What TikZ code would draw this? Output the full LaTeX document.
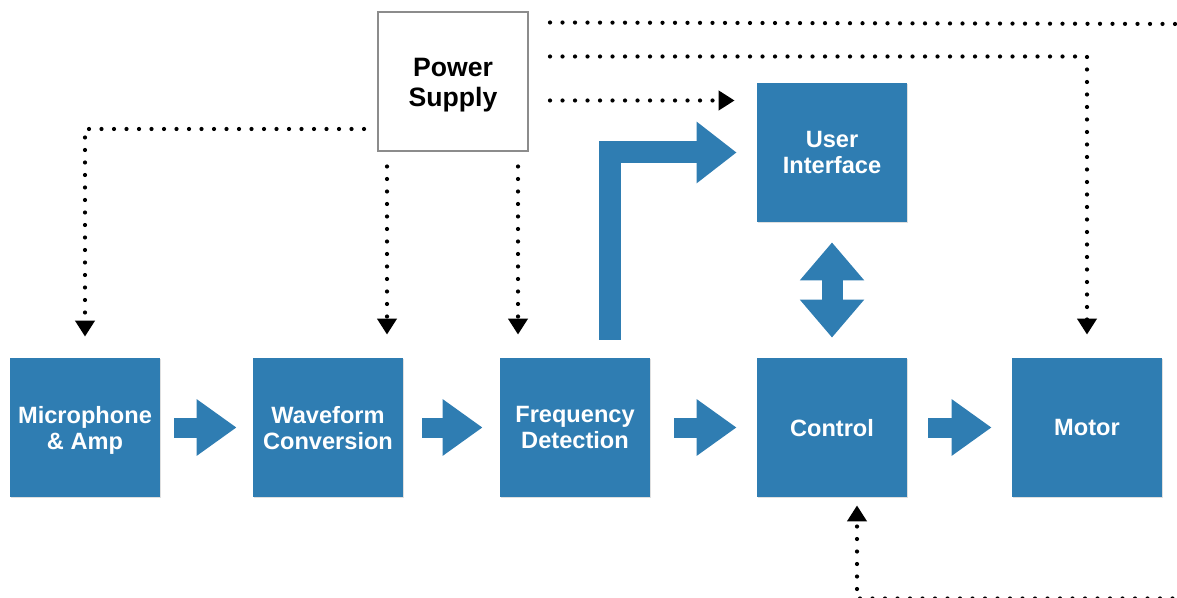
\documentclass[tikz,border=0pt]{standalone}
\usepackage{fontspec}
\setmainfont{Liberation Sans}
\usetikzlibrary{arrows.meta, calc, shadows}
\definecolor{boxblue}{RGB}{47,125,178}

\begin{document}
\begin{tikzpicture}[x=0.5pt, y=-0.5pt]

\tikzset{block/.style = {shape=rectangle, fill=boxblue, text=white, minimum width=75pt, minimum height=69.5pt, inner sep=0pt, align=center, text depth=0pt, font=\fontsize{11.8}{13}\selectfont\bfseries, drop shadow={shadow xshift=0.7pt, shadow yshift=-0.7pt, opacity=0.25}}}
\tikzset{supply/.style = {shape=rectangle, draw=black!45, line width=1pt, fill=white, minimum width=75pt, minimum height=69.5pt, inner sep=0pt, align=center, text depth=0pt, font=\fontsize{13.3}{15}\selectfont\bfseries}}
\tikzset{flow/.style = {draw=boxblue, line width=10pt, -{Triangle[length=20pt,width=27pt]}}}
\tikzset{power/.style = {line width=2.1pt, line cap=round, dash pattern=on 0pt off 6.25pt, -{Triangle[length=8pt,width=9.5pt]}}}

\useasboundingbox (0,0) rectangle (1177,598);

%blocks
\node[block] (mic) at (85,427.5) {Microphone\\\& Amp};
\node[block] (wave) at (328,427.5) {Waveform\\Conversion};
\node[block] (freq) at (575,427.5) {Frequency\\Detection};
\node[block] (ctl) at (832,427.5) {Control};
\node[block] (motor) at (1087,427.5) {Motor};
\node[block] (ui) at (832,152.5) {User\\Interface};
\node[supply] (ps) at (453,82) {Power\\Supply};

%signal arrows
\draw[flow, shorten <=7pt, shorten >=8pt] (mic) -- (wave);
\draw[flow, shorten <=9.5pt, shorten >=8.5pt] (wave) -- (freq);
\draw[flow, shorten <=12pt, shorten >=10pt] (freq) -- (ctl);
\draw[flow, shorten <=10.5pt, shorten >=10pt] (ctl) -- (motor);
\draw[flow, line width=11pt, line join=miter, -{Triangle[length=20pt,width=29.5pt]}, shorten <=9pt, shorten >=10pt] ([xshift=17.5pt]freq.north) |- (ui.west);
\draw[flow, line width=10.5pt, {Triangle[length=19pt,width=31pt]}-{Triangle[length=19pt,width=31pt]}, shorten <=10pt, shorten >=10pt] (ui.south) -- (ctl.north);

%power lines
\coordinate (pw) at ($(ps.west)+(-13,47)$);
\coordinate (ps1) at ($(ps.south west)+(10,14)$);
\coordinate (ps2) at ($(ps.south east)+(-11,14)$);
\coordinate (pe1) at ($(ps.north east)+(21,11)$);
\coordinate (pe2) at ($(ps.north east)+(21,45)$);
\coordinate (pe3) at ($(ps.north east)+(21,89)$);
\coordinate (out) at (1185,24);
\coordinate (in) at (1185,598.5);

\draw[power, shorten >=10.5pt] (pw) -| (mic.north);
\draw[power, shorten >=11.5pt] (ps1) -- (ps1 |- wave.north);
\draw[power, shorten >=11.5pt] (ps2) -- (ps2 |- freq.north);
\draw[power, -] (pe1) -- (out);
\draw[power, shorten >=11.5pt] (pe2) -| (motor.north);
\draw[power, shorten >=11pt] (pe3) -- (pe3 -| ui.west);
\draw[power, shorten >=4pt] (in) -| ([xshift=12.5pt]ctl.south);

\end{tikzpicture}
\end{document}
